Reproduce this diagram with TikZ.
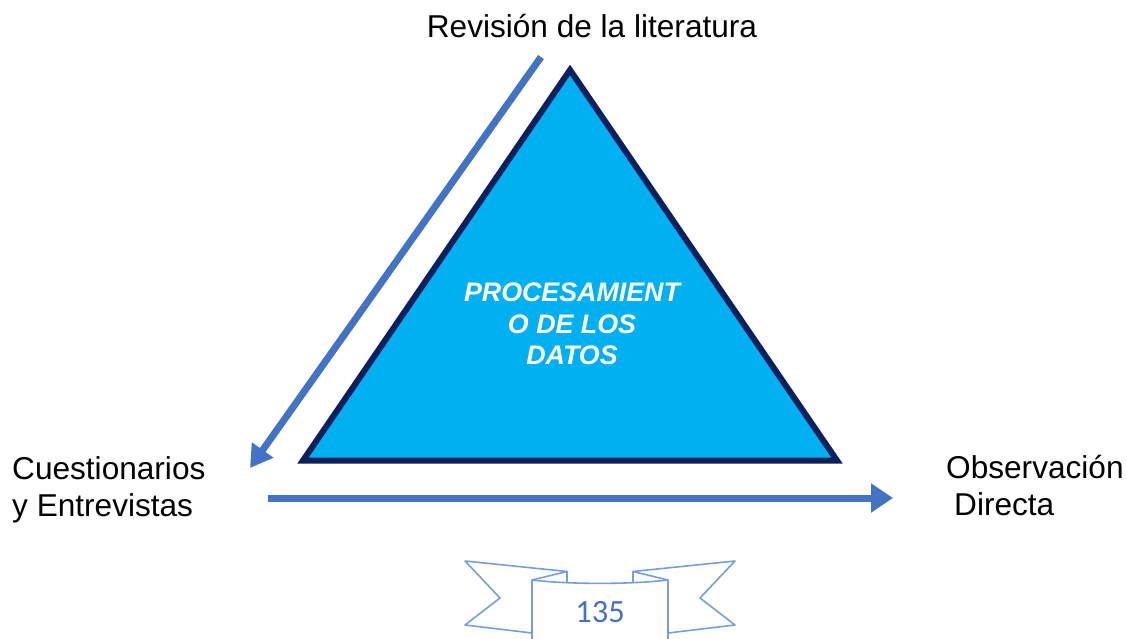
\documentclass[tikz,border=0pt]{standalone}
\usepackage{fontspec}
\setmainfont{Liberation Sans}
\newfontfamily\calib{Carlito}
\usetikzlibrary{arrows.meta}
\definecolor{trifill}{HTML}{00B0F0}
\definecolor{triline}{HTML}{0D1F5C}
\definecolor{arrblue}{HTML}{4472C4}
\definecolor{ribbon}{HTML}{739FDC}
\definecolor{numblue}{HTML}{4472C4}
\tikzset{
  lbl/.style={inner sep=0pt, font=\fontsize{31.6}{37}\selectfont},
  flowarrow/.style={draw=arrblue, line width=7pt},
  ribbonline/.style={draw=ribbon, line width=1.6pt, line join=round},
}
\begin{document}
\begin{tikzpicture}[x=1pt,y=-1pt]
\useasboundingbox (0,0) rectangle (1127,639);
% triangle
\coordinate (apex) at (570,70);
\coordinate (bl) at (303,460.5);
\coordinate (br) at (837,460.5);
\draw[fill=trifill, draw=triline, line width=6pt, line join=miter] (apex) -- (br) -- (bl) -- cycle;
\node[inner sep=0pt, align=center, text=white, font=\fontsize{26.8}{31.5}\selectfont\bfseries\itshape] (core) at (572,324) {PROCESAMIENT\\O DE LOS\\DATOS};
% labels
\node[lbl, anchor=base] (lit) at (592,38) {Revisión de la literatura};
\node[lbl, anchor=west, align=left] (cue) at (12,489.5) {Cuestionarios\\y Entrevistas};
\node[lbl, anchor=west, align=left] (obs) at (946,486) {Observación\\\hspace{8pt}Directa};
% arrows
\coordinate (d1) at (541,57);
\coordinate (d2) at (250,468);
\draw[flowarrow, -{Triangle[length=22pt,width=25pt]}] (d1) -- (d2);
\coordinate (h1) at (268,498);
\coordinate (h2) at (893,498);
\draw[flowarrow, -{Triangle[length=22pt,width=28pt]}] (h1) -- (h2);
% ribbon
\begin{scope}
\clip (0,0) rectangle (1127,639);
\draw[ribbonline] (532,645) -- (532,580) .. controls (570,584.5) and (630,584.5) .. (668,580) -- (668,645);
\draw[ribbonline] (532,633) -- (465,625) -- (500,598) -- (465,561) -- (567,571.5) -- (567,582);
\draw[ribbonline] (532,580) -- (567,571.5);
\draw[ribbonline] (668,633) -- (735,625) -- (700,598) -- (735,561) -- (633,571.5) -- (633,582);
\draw[ribbonline] (668,580) -- (633,571.5);
\end{scope}
\node[inner sep=0pt, anchor=base, text=numblue, font=\calib\fontsize{32.5}{37}\selectfont] (num) at (600,622) {135};
\end{tikzpicture}
\end{document}
